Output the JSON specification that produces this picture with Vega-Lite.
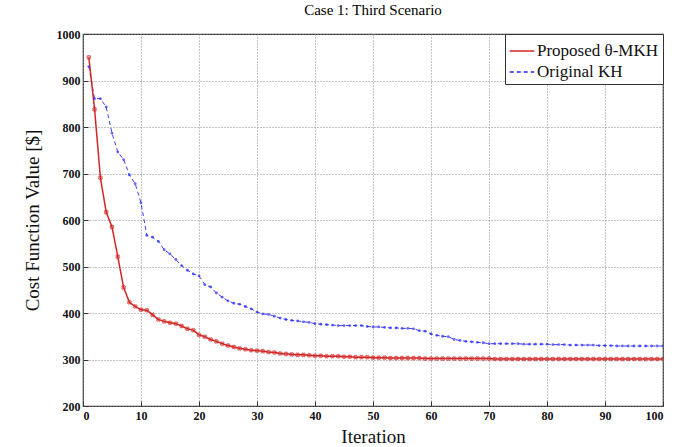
{
  "$schema": "https://vega.github.io/schema/vega-lite/v6.json",
  "width": 580,
  "height": 372,
  "autosize": {"type": "none"},
  "padding": {"left": 83, "top": 34, "right": 25, "bottom": 41},
  "background": "white",
  "title": {"text": "Case 1: Third Scenario", "font": "Liberation Serif", "fontSize": 15, "fontWeight": "normal", "color": "black", "offset": 10, "anchor": "middle"},
  "config": {
    "view": {"stroke": "#333", "strokeWidth": 1.2},
    "axis": {"labelFont": "Liberation Serif", "labelFontSize": 12, "labelFontWeight": "bold", "labelColor": "#111", "titleFont": "Liberation Serif", "titleFontSize": 19, "titleFontWeight": "normal", "titleColor": "#111", "gridColor": "#888", "gridDash": [1, 2], "gridOpacity": 1, "domain": false, "tickColor": "#333", "tickSize": -5, "tickWidth": 1},
    "legend": {"orient": "top-right", "offset": 0, "strokeColor": "#333", "fillColor": "white", "padding": 4, "labelFont": "Liberation Serif", "labelFontSize": 17, "labelColor": "#111", "symbolType": "stroke", "symbolSize": 600, "symbolStrokeWidth": 1.3, "rowPadding": 0, "labelLimit": 300, "labelOffset": 2, "cornerRadius": 0}
  },
  "datasets": {
    "d": [
      {"iter":1,"value":950,"series":"Proposed θ-MKH"},{"iter":2,"value":838,"series":"Proposed θ-MKH"},{"iter":3,"value":691,"series":"Proposed θ-MKH"},{"iter":4,"value":617,"series":"Proposed θ-MKH"},{"iter":5,"value":585,"series":"Proposed θ-MKH"},{"iter":6,"value":521,"series":"Proposed θ-MKH"},{"iter":7,"value":455,"series":"Proposed θ-MKH"},{"iter":8,"value":423,"series":"Proposed θ-MKH"},{"iter":9,"value":414,"series":"Proposed θ-MKH"},{"iter":10,"value":407,"series":"Proposed θ-MKH"},
      {"iter":11,"value":406,"series":"Proposed θ-MKH"},{"iter":12,"value":396,"series":"Proposed θ-MKH"},{"iter":13,"value":386,"series":"Proposed θ-MKH"},{"iter":14,"value":382,"series":"Proposed θ-MKH"},{"iter":15,"value":379,"series":"Proposed θ-MKH"},{"iter":16,"value":377,"series":"Proposed θ-MKH"},{"iter":17,"value":372,"series":"Proposed θ-MKH"},{"iter":18,"value":366,"series":"Proposed θ-MKH"},{"iter":19,"value":363,"series":"Proposed θ-MKH"},{"iter":20,"value":353,"series":"Proposed θ-MKH"},
      {"iter":21,"value":349,"series":"Proposed θ-MKH"},{"iter":22,"value":343,"series":"Proposed θ-MKH"},{"iter":23,"value":339,"series":"Proposed θ-MKH"},{"iter":24,"value":334,"series":"Proposed θ-MKH"},{"iter":25,"value":330,"series":"Proposed θ-MKH"},{"iter":26,"value":327,"series":"Proposed θ-MKH"},{"iter":27,"value":324,"series":"Proposed θ-MKH"},{"iter":28,"value":322,"series":"Proposed θ-MKH"},{"iter":29,"value":320,"series":"Proposed θ-MKH"},{"iter":30,"value":319,"series":"Proposed θ-MKH"},
      {"iter":31,"value":318,"series":"Proposed θ-MKH"},{"iter":32,"value":316,"series":"Proposed θ-MKH"},{"iter":33,"value":315,"series":"Proposed θ-MKH"},{"iter":34,"value":313,"series":"Proposed θ-MKH"},{"iter":35,"value":312,"series":"Proposed θ-MKH"},{"iter":36,"value":311,"series":"Proposed θ-MKH"},{"iter":37,"value":310,"series":"Proposed θ-MKH"},{"iter":38,"value":310,"series":"Proposed θ-MKH"},{"iter":39,"value":309,"series":"Proposed θ-MKH"},{"iter":40,"value":308,"series":"Proposed θ-MKH"},
      {"iter":41,"value":308,"series":"Proposed θ-MKH"},{"iter":42,"value":307,"series":"Proposed θ-MKH"},{"iter":43,"value":307,"series":"Proposed θ-MKH"},{"iter":44,"value":307,"series":"Proposed θ-MKH"},{"iter":45,"value":306,"series":"Proposed θ-MKH"},{"iter":46,"value":306,"series":"Proposed θ-MKH"},{"iter":47,"value":305,"series":"Proposed θ-MKH"},{"iter":48,"value":305,"series":"Proposed θ-MKH"},{"iter":49,"value":305,"series":"Proposed θ-MKH"},{"iter":50,"value":304,"series":"Proposed θ-MKH"},
      {"iter":51,"value":304,"series":"Proposed θ-MKH"},{"iter":52,"value":304,"series":"Proposed θ-MKH"},{"iter":53,"value":303,"series":"Proposed θ-MKH"},{"iter":54,"value":303,"series":"Proposed θ-MKH"},{"iter":55,"value":303,"series":"Proposed θ-MKH"},{"iter":56,"value":303,"series":"Proposed θ-MKH"},{"iter":57,"value":303,"series":"Proposed θ-MKH"},{"iter":58,"value":303,"series":"Proposed θ-MKH"},{"iter":59,"value":302,"series":"Proposed θ-MKH"},{"iter":60,"value":302,"series":"Proposed θ-MKH"},
      {"iter":61,"value":302,"series":"Proposed θ-MKH"},{"iter":62,"value":302,"series":"Proposed θ-MKH"},{"iter":63,"value":302,"series":"Proposed θ-MKH"},{"iter":64,"value":302,"series":"Proposed θ-MKH"},{"iter":65,"value":302,"series":"Proposed θ-MKH"},{"iter":66,"value":302,"series":"Proposed θ-MKH"},{"iter":67,"value":302,"series":"Proposed θ-MKH"},{"iter":68,"value":302,"series":"Proposed θ-MKH"},{"iter":69,"value":302,"series":"Proposed θ-MKH"},{"iter":70,"value":302,"series":"Proposed θ-MKH"},
      {"iter":71,"value":301,"series":"Proposed θ-MKH"},{"iter":72,"value":301,"series":"Proposed θ-MKH"},{"iter":73,"value":301,"series":"Proposed θ-MKH"},{"iter":74,"value":301,"series":"Proposed θ-MKH"},{"iter":75,"value":301,"series":"Proposed θ-MKH"},{"iter":76,"value":301,"series":"Proposed θ-MKH"},{"iter":77,"value":301,"series":"Proposed θ-MKH"},{"iter":78,"value":301,"series":"Proposed θ-MKH"},{"iter":79,"value":301,"series":"Proposed θ-MKH"},{"iter":80,"value":301,"series":"Proposed θ-MKH"},
      {"iter":81,"value":301,"series":"Proposed θ-MKH"},{"iter":82,"value":301,"series":"Proposed θ-MKH"},{"iter":83,"value":301,"series":"Proposed θ-MKH"},{"iter":84,"value":301,"series":"Proposed θ-MKH"},{"iter":85,"value":301,"series":"Proposed θ-MKH"},{"iter":86,"value":301,"series":"Proposed θ-MKH"},{"iter":87,"value":301,"series":"Proposed θ-MKH"},{"iter":88,"value":301,"series":"Proposed θ-MKH"},{"iter":89,"value":301,"series":"Proposed θ-MKH"},{"iter":90,"value":301,"series":"Proposed θ-MKH"},
      {"iter":91,"value":301,"series":"Proposed θ-MKH"},{"iter":92,"value":301,"series":"Proposed θ-MKH"},{"iter":93,"value":301,"series":"Proposed θ-MKH"},{"iter":94,"value":301,"series":"Proposed θ-MKH"},{"iter":95,"value":301,"series":"Proposed θ-MKH"},{"iter":96,"value":301,"series":"Proposed θ-MKH"},{"iter":97,"value":301,"series":"Proposed θ-MKH"},{"iter":98,"value":301,"series":"Proposed θ-MKH"},{"iter":99,"value":301,"series":"Proposed θ-MKH"},{"iter":100,"value":301,"series":"Proposed θ-MKH"},
      {"iter":1,"value":930,"series":"Original KH"},{"iter":2,"value":861,"series":"Original KH"},{"iter":3,"value":861,"series":"Original KH"},{"iter":4,"value":843,"series":"Original KH"},{"iter":5,"value":787,"series":"Original KH"},{"iter":6,"value":746,"series":"Original KH"},{"iter":7,"value":730,"series":"Original KH"},{"iter":8,"value":697,"series":"Original KH"},{"iter":9,"value":678,"series":"Original KH"},{"iter":10,"value":637,"series":"Original KH"},
      {"iter":11,"value":567,"series":"Original KH"},{"iter":12,"value":563,"series":"Original KH"},{"iter":13,"value":554,"series":"Original KH"},{"iter":14,"value":536,"series":"Original KH"},{"iter":15,"value":527,"series":"Original KH"},{"iter":16,"value":515,"series":"Original KH"},{"iter":17,"value":502,"series":"Original KH"},{"iter":18,"value":492,"series":"Original KH"},{"iter":19,"value":484,"series":"Original KH"},{"iter":20,"value":480,"series":"Original KH"},
      {"iter":21,"value":461,"series":"Original KH"},{"iter":22,"value":456,"series":"Original KH"},{"iter":23,"value":443,"series":"Original KH"},{"iter":24,"value":434,"series":"Original KH"},{"iter":25,"value":426,"series":"Original KH"},{"iter":26,"value":421,"series":"Original KH"},{"iter":27,"value":419,"series":"Original KH"},{"iter":28,"value":414,"series":"Original KH"},{"iter":29,"value":409,"series":"Original KH"},{"iter":30,"value":402,"series":"Original KH"},
      {"iter":31,"value":398,"series":"Original KH"},{"iter":32,"value":397,"series":"Original KH"},{"iter":33,"value":393,"series":"Original KH"},{"iter":34,"value":389,"series":"Original KH"},{"iter":35,"value":386,"series":"Original KH"},{"iter":36,"value":384,"series":"Original KH"},{"iter":37,"value":383,"series":"Original KH"},{"iter":38,"value":381,"series":"Original KH"},{"iter":39,"value":380,"series":"Original KH"},{"iter":40,"value":377,"series":"Original KH"},
      {"iter":41,"value":376,"series":"Original KH"},{"iter":42,"value":375,"series":"Original KH"},{"iter":43,"value":374,"series":"Original KH"},{"iter":44,"value":373,"series":"Original KH"},{"iter":45,"value":373,"series":"Original KH"},{"iter":46,"value":373,"series":"Original KH"},{"iter":47,"value":373,"series":"Original KH"},{"iter":48,"value":373,"series":"Original KH"},{"iter":49,"value":371,"series":"Original KH"},{"iter":50,"value":370,"series":"Original KH"},
      {"iter":51,"value":370,"series":"Original KH"},{"iter":52,"value":369,"series":"Original KH"},{"iter":53,"value":368,"series":"Original KH"},{"iter":54,"value":368,"series":"Original KH"},{"iter":55,"value":367,"series":"Original KH"},{"iter":56,"value":367,"series":"Original KH"},{"iter":57,"value":366,"series":"Original KH"},{"iter":58,"value":362,"series":"Original KH"},{"iter":59,"value":361,"series":"Original KH"},{"iter":60,"value":355,"series":"Original KH"},
      {"iter":61,"value":352,"series":"Original KH"},{"iter":62,"value":350,"series":"Original KH"},{"iter":63,"value":349,"series":"Original KH"},{"iter":64,"value":343,"series":"Original KH"},{"iter":65,"value":341,"series":"Original KH"},{"iter":66,"value":339,"series":"Original KH"},{"iter":67,"value":338,"series":"Original KH"},{"iter":68,"value":337,"series":"Original KH"},{"iter":69,"value":336,"series":"Original KH"},{"iter":70,"value":334,"series":"Original KH"},
      {"iter":71,"value":334,"series":"Original KH"},{"iter":72,"value":334,"series":"Original KH"},{"iter":73,"value":334,"series":"Original KH"},{"iter":74,"value":334,"series":"Original KH"},{"iter":75,"value":334,"series":"Original KH"},{"iter":76,"value":333,"series":"Original KH"},{"iter":77,"value":333,"series":"Original KH"},{"iter":78,"value":333,"series":"Original KH"},{"iter":79,"value":333,"series":"Original KH"},{"iter":80,"value":333,"series":"Original KH"},
      {"iter":81,"value":332,"series":"Original KH"},{"iter":82,"value":332,"series":"Original KH"},{"iter":83,"value":332,"series":"Original KH"},{"iter":84,"value":331,"series":"Original KH"},{"iter":85,"value":331,"series":"Original KH"},{"iter":86,"value":331,"series":"Original KH"},{"iter":87,"value":331,"series":"Original KH"},{"iter":88,"value":331,"series":"Original KH"},{"iter":89,"value":330,"series":"Original KH"},{"iter":90,"value":330,"series":"Original KH"},
      {"iter":91,"value":330,"series":"Original KH"},{"iter":92,"value":329,"series":"Original KH"},{"iter":93,"value":329,"series":"Original KH"},{"iter":94,"value":329,"series":"Original KH"},{"iter":95,"value":329,"series":"Original KH"},{"iter":96,"value":329,"series":"Original KH"},{"iter":97,"value":329,"series":"Original KH"},{"iter":98,"value":329,"series":"Original KH"},{"iter":99,"value":329,"series":"Original KH"},{"iter":100,"value":329,"series":"Original KH"}
    ]
  },
  "data": {"name": "d"},
  "encoding": {
    "x": {"field": "iter", "type": "quantitative", "scale": {"domain": [0, 100], "nice": false, "zero": false}, "axis": {"title": "Iteration", "values": [0,10,20,30,40,50,60,70,80,90,100], "format": "d", "labelPadding": 9, "titlePadding": 6}},
    "y": {"field": "value", "type": "quantitative", "scale": {"domain": [200, 1000], "nice": false, "zero": false}, "axis": {"title": "Cost Function Value [$]", "values": [200,300,400,500,600,700,800,900,1000], "format": "d", "labelPadding": 8, "titlePadding": 14}},
    "color": {"field": "series", "type": "nominal", "title": null, "scale": {"domain": ["Proposed θ-MKH", "Original KH"], "range": ["#d42626", "#2828ff"]}, "legend": {"orient": "top-right", "symbolType": "stroke", "labelFont": "Liberation Serif"}},
    "strokeDash": {"field": "series", "type": "nominal", "title": null, "scale": {"domain": ["Proposed θ-MKH", "Original KH"], "range": [[1, 0], [4, 3]]}}
  },
  "layer": [
    {
      "transform": [{"filter": "datum.series === 'Original KH'"}],
      "mark": {"type": "line", "clip": true, "strokeWidth": 0.9}
    },
    {
      "transform": [{"filter": "datum.series === 'Proposed θ-MKH'"}],
      "mark": {"type": "line", "clip": true, "strokeWidth": 1.5}
    },
    {
      "transform": [{"filter": "datum.series === 'Proposed θ-MKH'"}],
      "mark": {"type": "point", "shape": "cross", "angle": 45, "size": 14, "filled": false, "strokeWidth": 1, "clip": true},
      "encoding": {"color": {"value": "#d42626"}, "strokeDash": {"value": [1, 0]}}
    },
    {
      "transform": [{"filter": "datum.series === 'Original KH'"}],
      "mark": {"type": "point", "shape": "circle", "size": 8, "filled": true, "clip": true},
      "encoding": {"color": {"value": "#2828ff"}, "strokeDash": {"value": [1, 0]}}
    }
  ]
}
